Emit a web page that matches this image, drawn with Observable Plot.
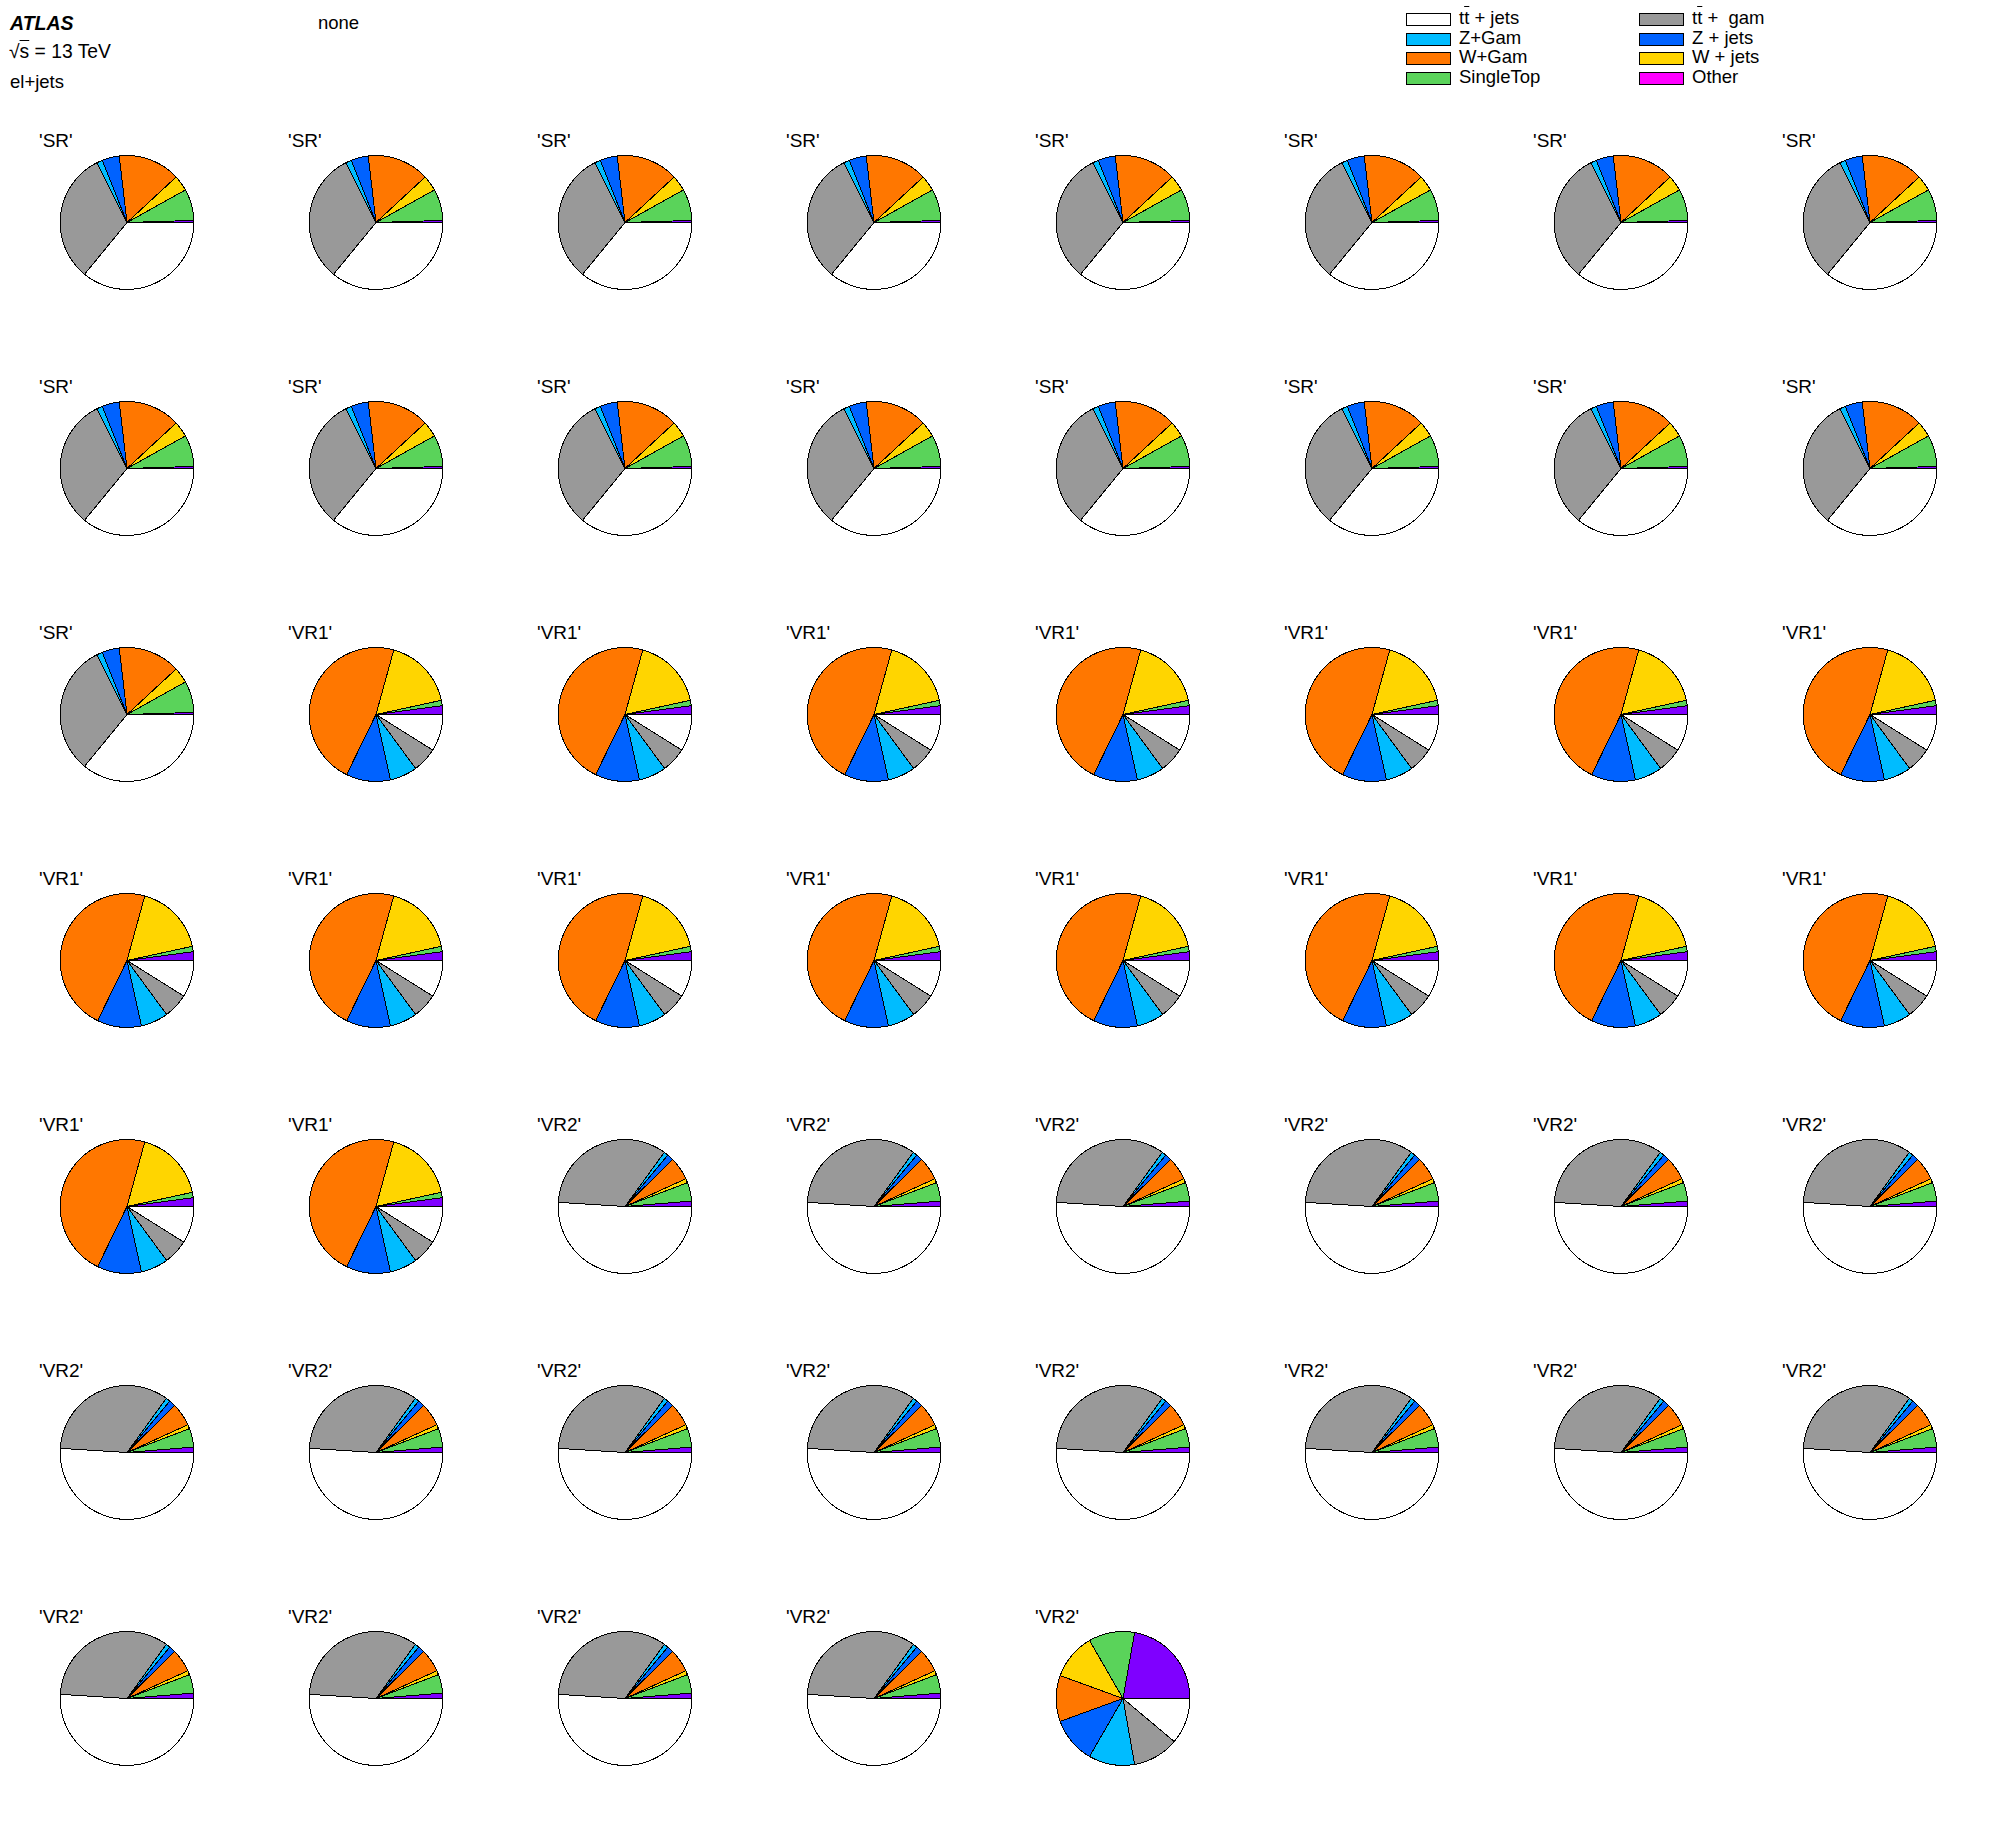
<!DOCTYPE html>
<html>
<head>
<meta charset="utf-8">
<script src="https://cdn.jsdelivr.net/npm/d3@7"></script>
<script src="https://cdn.jsdelivr.net/npm/@observablehq/plot@0.6"></script>
<style>
  html, body { margin: 0; padding: 0; background: #fff; }
  #wrap { position: relative; width: 1996px; height: 1822px; font-family: "Liberation Sans", Arial, Helvetica, sans-serif; color: #000; }
  .t { position: absolute; font-size: 18.5px; line-height: 18.5px; white-space: pre; }
  .ov { text-decoration: overline; }
  .box { position: absolute; width: 43px; height: 11px; border: 1px solid #000; }
  #chart { position: absolute; left: 0; top: 0; }
</style>
</head>
<body>
<div id="wrap">
  <div id="chart"></div>
  <div class="t" style="left:10px; top:14px; font-size:19.5px; font-weight:bold; font-style:italic;">ATLAS</div>
  <div class="t" style="left:318px; top:14px;">none</div>
  <div class="t" style="left:9px; top:43px; font-size:19.3px;">√<span class="ov">s</span> = 13 TeV</div>
  <div class="t" style="left:10px; top:73px;">el+jets</div>
  <div id="legend"></div>
</div>
<script>
// ---- data ----
const categories = ["ttjets", "ttgam", "ZGam", "Zjets", "WGam", "Wjets", "SingleTop", "Other"];
const legendLabels = ["t<span class='ov'>t</span> + jets", "t<span class='ov'>t</span> +  gam", "Z+Gam", "Z + jets", "W+Gam", "W + jets", "SingleTop", "Other"];
const pieColors = ["#ffffff", "#999999", "#00bcff", "#0062ff", "#ff7700", "#ffd500", "#5ad35a", "#7f00ff"];
const legendColors = ["#ffffff", "#999999", "#00bcff", "#0062ff", "#ff7700", "#ffd500", "#5ad35a", "#ff00ff"];

// fractions (%) per category, in category order
const srValues = [36.0, 31.7, 1.4, 4.2, 15.0, 3.8, 7.6, 0.5];
const vr1Values = [8.9, 6.0, 6.6, 10.7, 47.0, 17.3, 1.3, 2.1];
const vr2Values = [51.0, 34.0, 1.05, 1.55, 5.6, 1.0, 4.5, 1.3];
const vr2LastValues = [1, 1, 1, 1, 1, 1, 1, 2];

// sequence of pies
const regionLabels = ["'SR'", "'VR1'", "'VR2'", "'VR2'"];
const regionCounts = [17, 17, 18, 1];
const regionValues = [srValues, vr1Values, vr2Values, vr2LastValues];
const nCols = 8, nRows = 7;

// ---- build tables ----
const pies = [];
regionCounts.forEach((n, r) => {
  for (let k = 0; k < n; k++) pies.push({label: regionLabels[r], values: regionValues[r]});
});
pies.forEach((p, i) => { p.col = i % nCols; p.row = Math.floor(i / nCols); });

const pieGen = d3.pie().sort(null).startAngle(Math.PI / 2).endAngle(Math.PI / 2 + 2 * Math.PI);
const points = [];
pies.forEach((p, i) => {
  const arcs = pieGen(p.values);
  arcs.forEach((a, j) => {
    const key = i + "-" + j;
    const cat = categories[j];
    const n = Math.max(2, Math.ceil((a.endAngle - a.startAngle) / (Math.PI / 360)));
    points.push({key, cat, col: p.col, row: p.row, x: 0, y: 0});
    for (let k = 0; k <= n; k++) {
      const ang = a.startAngle + (a.endAngle - a.startAngle) * k / n;
      points.push({key, cat, col: p.col, row: p.row, x: Math.sin(ang), y: Math.cos(ang)});
    }
    points.push({key, cat, col: p.col, row: p.row, x: 0, y: 0});
  });
});

// ---- layout ----
const chartW = 1996, chartH = 1822, marginTopPx = 98, radiusPx = 67;
const cellW = chartW / nCols, cellH = (chartH - marginTopPx) / nRows;
const ax = (cellW / 2) / radiusPx, ay = (cellH / 2) / radiusPx;

const plot = Plot.plot({
  width: chartW,
  height: chartH,
  marginTop: marginTopPx,
  marginBottom: 0,
  marginLeft: 0,
  marginRight: 0,
  style: {fontFamily: "'Liberation Sans', Arial, Helvetica, sans-serif", background: "white", color: "black"},
  fx: {domain: d3.range(nCols), padding: 0, axis: null},
  fy: {domain: d3.range(nRows), padding: 0, axis: null},
  x: {domain: [-ax, ax], axis: null},
  y: {domain: [-ay, ay], axis: null},
  color: {type: "ordinal", domain: categories, range: pieColors},
  marks: [
    Plot.line(points, {fx: "col", fy: "row", x: "x", y: "y", z: "key", fill: "cat", stroke: "black", strokeWidth: 1, strokeLinejoin: "round", shapeRendering: "crispEdges"}),
    Plot.text(pies, {fx: "col", fy: "row", x: () => 0, y: () => 0, text: "label", dx: -88, dy: -76, textAnchor: "start", lineAnchor: "bottom", fontSize: 19, fill: "black"})
  ]
});
document.getElementById("chart").appendChild(plot);

// ---- legend ----
const legend = document.getElementById("legend");
const colX = [1406, 1639], textX = [1459, 1692];
categories.forEach((c, i) => {
  const col = i % 2, row = Math.floor(i / 2);
  const box = document.createElement("div");
  box.className = "box";
  box.style.left = colX[col] + "px";
  box.style.top = (13 + 19.5 * row) + "px";
  box.style.background = legendColors[i];
  legend.appendChild(box);
  const t = document.createElement("div");
  t.className = "t";
  t.style.left = textX[col] + "px";
  t.style.top = (9 + 19.5 * row) + "px";
  t.innerHTML = legendLabels[i];
  legend.appendChild(t);
});
</script>
</body>
</html>
